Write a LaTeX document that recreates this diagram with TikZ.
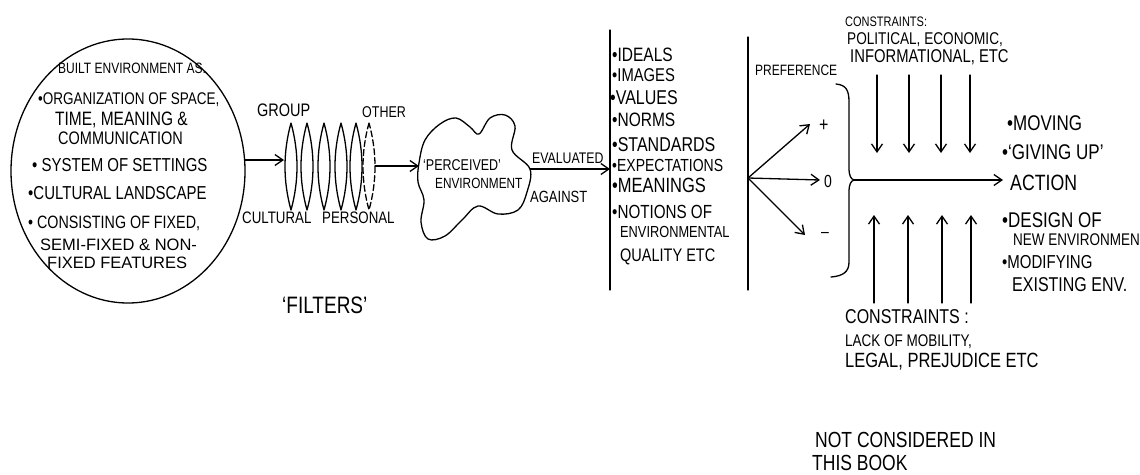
\documentclass[tikz,border=0pt]{standalone}
\usepackage{fontspec}
\setmainfont{Liberation Sans}[FakeStretch=0.8]
\newfontfamily\handwide{Liberation Sans}
\usetikzlibrary{arrows.meta,shapes.geometric}

\tikzset{
  ink/.style={line width=1.3pt, line cap=round, line join=round},
  arr/.style={ink, -{Straight Barb[length=8pt,width=11pt]}},
  % lettering: sizes are given for the normal width and enlarged to make up for the narrow face
  hw/.style={font={\pgfmathsetmacro\hwsize{#1*1.25}\fontsize{\hwsize pt}{\hwsize pt}\selectfont},
             inner sep=0pt, anchor=west},
  hw/.default=14,
  % wider, flatter lettering
  hwwide/.style={font={\handwide\fontsize{#1pt}{#1pt}\selectfont}, inner sep=0pt, anchor=west},
  lensshape/.style={ink},
}

\begin{document}
\begin{tikzpicture}[x=1pt,y=-1pt]
\useasboundingbox (0,0) rectangle (1140,474);

% ---- built environment ----
\node[ellipse, draw, ink, minimum width=234pt, minimum height=264pt, inner sep=0pt] (env) at (128,171) {};
\node[hw=12]   (be0) at (58,68)  {BUILT ENVIRONMENT AS.};
\node[hw=13.5] (be1) at (38,100) {•ORGANIZATION OF SPACE,};
\node[hw=15.5] (be2) at (55,120) {TIME, MEANING \&};
\node[hw=14.5] (be3) at (58,138) {COMMUNICATION};
\node[hw=15]   (be4) at (32,165) {• SYSTEM OF SETTINGS};
\node[hw=15]   (be5) at (28,193) {•CULTURAL LANDSCAPE};
\node[hw=14.3] (be6) at (28,223) {• CONSISTING OF FIXED,};
\node[hwwide=16.5] (be7) at (40,245) {SEMI-FIXED \& NON-};
\node[hwwide=16.5] (be8) at (47,263) {FIXED FEATURES};
\coordinate (envout) at (244.6,160);

% ---- filters ----
\foreach \x in {291,307,324,341,356}
  \draw[lensshape] (\x,123) .. controls (\x-8,152) and (\x-8,181) .. (\x,210)
                            .. controls (\x+8,181) and (\x+8,152) .. (\x,123);
\draw[lensshape, dash pattern=on 6pt off 3pt] (369,123) .. controls (361,152) and (361,181) .. (369,210)
                            .. controls (377,181) and (377,152) .. (369,123);
\coordinate (lensin) at (284,160);
\coordinate (lensout) at (375,166);
\node[hw=14.5] (group) at (257,110) {GROUP};
\node[hw=12.5] (other) at (362,112) {OTHER};
\node[hw=13.3] (cult)  at (242,218) {CULTURAL};
\node[hw=13.3] (pers)  at (322,218) {PERSONAL};
\node[hw=19]   (filt)  at (282,305) {‘FILTERS’};
\draw[arr] (envout) -- (lensin);

% ---- perceived environment ----
\draw[ink] plot[smooth cycle, tension=0.6] coordinates {
  (419,163) (425,140) (440,124) (456,118) (470,127) (479,134) (490,118)
  (505,115) (515,126) (512,150) (530,169) (527,192) (518,210) (498,214)
  (478,206) (462,220) (445,236) (428,239) (421,222) (424,200) (418,182)};
\node[hw=12.5] (pe1) at (423,165) {‘PERCEIVED’};
\node[hw=11.8] (pe2) at (435,183) {ENVIRONMENT};
\coordinate (blobin) at (419,166);
\coordinate (blobout) at (530,169);
\draw[arr] (lensout) -- (blobin);

% ---- evaluation ----
\coordinate (la1) at (610,30);
\coordinate (la2) at (610,290);
\coordinate (lb1) at (748,37);
\coordinate (lb2) at (748,290);
\draw[ink] (la1) -- (la2);
\draw[ink] (lb1) -- (lb2);
\node[hw=12.3] (eval) at (532,158) {EVALUATED};
\node[hw=13]   (agst) at (530,197) {AGAINST};
\coordinate (lahit) at (610,169);
\draw[arr] (blobout) -- (lahit);

\node[hw=15.5] (i1)  at (612,55)  {•IDEALS};
\node[hw=14.8] (i2)  at (612,75)  {•IMAGES};
\node[hw=16]   (i3)  at (610,98)  {•VALUES};
\node[hw=15.5] (i4)  at (612,120) {•NORMS};
\node[hw=16]   (i5)  at (612,145) {•STANDARDS};
\node[hw=14]   (i6)  at (612,165) {•EXPECTATIONS};
\node[hw=16.5] (i7)  at (612,185) {•MEANINGS};
\node[hw=15.2] (i8)  at (612,212) {•NOTIONS OF};
\node[hw=12.8] (i9)  at (620,232) {ENVIRONMENTAL};
\node[hw=14.5] (i10) at (620,257) {QUALITY ETC};

% ---- preference ----
\node[hw=12] (pref) at (755,70) {PREFERENCE};
\coordinate (fan) at (748,178);
\coordinate (fplus) at (810,124);
\coordinate (fzero) at (820,180);
\coordinate (fminus) at (805,235);
\draw[arr] (fan) -- (fplus);
\draw[arr] (fan) -- (fzero);
\draw[arr] (fan) -- (fminus);
\node[hw=16] (plus)  at (819,126) {+};
\node[hw=14] (zero)  at (824,181) {0};
\node[hw=14] (minus) at (821,235) {–};

% brace gathering the preferences
\draw[ink] (836,84) .. controls (846,85) and (849,90) .. (849,102) -- (849,168)
  .. controls (849,176) and (851,179) .. (854,180)
  .. controls (851,181) and (849,184) .. (849,192) -- (849,262)
  .. controls (849,272) and (843,276) .. (831,277);
\coordinate (cusp) at (854,180);

% ---- action ----
\node[hw=17.7] (action) at (1010,183) {ACTION};
\draw[arr, shorten >=7pt] (cusp) -- (cusp -| action.west);

% constraints from above
\node[hw=11]   (ct1) at (845,22) {CONSTRAINTS:};
\node[hw=13.6] (ct2) at (847,40) {POLITICAL, ECONOMIC,};
\node[hw=14.8] (ct3) at (850,57) {INFORMATIONAL, ETC};
\foreach \x in {877,909,941,970}
  \draw[arr] (\x,75) -- (\x,153);

% constraints from below
\foreach \x in {874,908,942,971}
  \draw[arr] (\x,303) -- (\x,215);
\node[hw=16]   (cb1) at (845,317) {CONSTRAINTS :};
\node[hw=13.5] (cb2) at (845,342) {LACK OF MOBILITY,};
\node[hw=16.5] (cb3) at (845,362) {LEGAL, PREJUDICE ETC};

% outcomes
\node[hw=17]   (o1) at (1007,123) {•MOVING};
\node[hw=17]   (o2) at (1002,152) {•‘GIVING UP’};
\node[hw=17]   (o3) at (1002,220) {•DESIGN OF};
\node[hw=13.5] (o4) at (1013,240) {NEW ENVIRONMEN};
\node[hw=15]   (o5) at (1002,262) {•MODIFYING};
\node[hw=16]   (o6) at (1012,285) {EXISTING ENV.};

% note
\node[hw=17.5] (n1) at (815,440) {NOT CONSIDERED IN};
\node[hw=17.5] (n2) at (812,463) {THIS BOOK};
\end{tikzpicture}
\end{document}
